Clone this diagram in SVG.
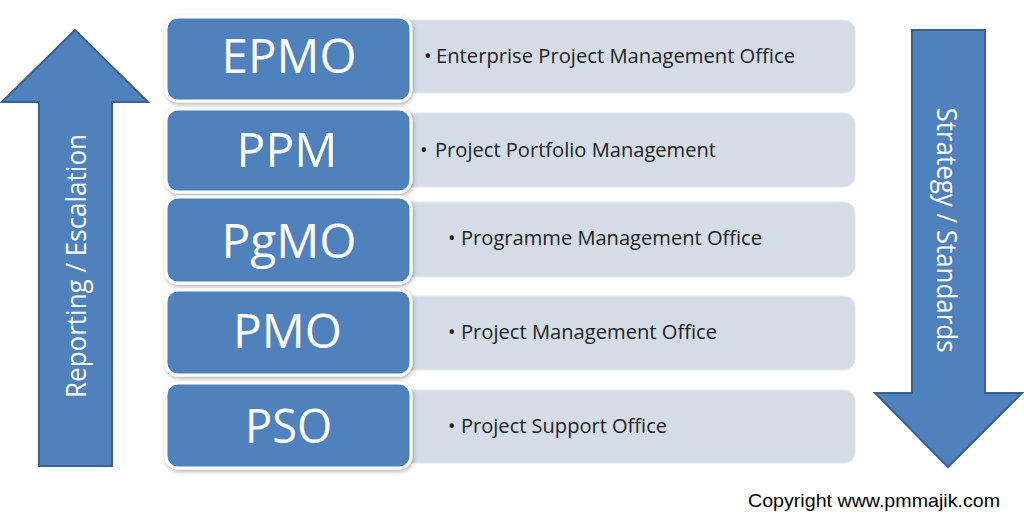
<svg xmlns="http://www.w3.org/2000/svg" width="1024" height="524" viewBox="0 0 1024 524">
<defs>
<style>
.big{fill:#4F81BD;stroke:#FFFFFF;stroke-width:3}
.lite{fill:#D4DCE8;stroke:#E4E9F1;stroke-width:1}
.arrow{fill:#4F81BD;stroke:#3A6190;stroke-width:2;stroke-linejoin:miter}
.lbl{font-family:"Open Sans","Noto Sans",sans-serif;font-size:48px;fill:#FFFFFF;text-anchor:middle}
.desc{font-family:"Open Sans","Noto Sans",sans-serif;font-size:20px;fill:#222222}
.vert{font-family:"Open Sans","Noto Sans",sans-serif;font-size:28px;fill:#FFFFFF;text-anchor:middle}
.copy{font-family:"Liberation Sans",Arial,sans-serif;font-size:18.5px;fill:#000000}
</style>
<filter id="sh" x="-10%" y="-10%" width="120%" height="130%">
<feDropShadow dx="1" dy="2" stdDeviation="2" flood-color="#000" flood-opacity="0.3"/>
</filter>
</defs>
<rect width="1024" height="524" fill="#FFFFFF"/>
<g id="arrows">
<polygon class="arrow" points="75,30 148,102 112,102 112,466 39,466 39,102 2,102"/>
<text class="vert" transform="translate(86,266) rotate(-90)" textLength="264" lengthAdjust="spacingAndGlyphs">Reporting / Escalation</text>
<polygon class="arrow" points="912,30 985,30 985,393 1022,393 948,467 875,393 912,393"/>
<text class="vert" transform="translate(937,230) rotate(90)" textLength="245" lengthAdjust="spacingAndGlyphs">Strategy / Standards</text>
</g>
<g id="connectors"></g>
<g id="epmo">
<rect class="lite" x="398" y="20" width="457" height="73" rx="11"/>
<rect class="big" x="166" y="17" width="245" height="84" rx="12" filter="url(#sh)"/>
<text class="lbl" x="289" y="73" textLength="135" lengthAdjust="spacingAndGlyphs">EPMO</text>
<text class="desc" x="424" y="63">•</text>
<text class="desc" x="436" y="63" textLength="359" lengthAdjust="spacingAndGlyphs">Enterprise Project Management Office</text>
</g>
<g id="ppm">
<rect class="lite" x="398" y="113" width="457" height="74" rx="11"/>
<rect class="big" x="166" y="109" width="245" height="83" rx="12" filter="url(#sh)"/>
<text class="lbl" x="287" y="167" textLength="101" lengthAdjust="spacingAndGlyphs">PPM</text>
<text class="desc" x="420" y="157">•</text>
<text class="desc" x="435" y="157" textLength="281" lengthAdjust="spacingAndGlyphs">Project Portfolio Management</text>
</g>
<g id="pgmo">
<rect class="lite" x="398" y="202" width="457" height="75" rx="11"/>
<rect class="big" x="166" y="197" width="245" height="86" rx="12" filter="url(#sh)"/>
<text class="lbl" x="289" y="258" textLength="135" lengthAdjust="spacingAndGlyphs">PgMO</text>
<text class="desc" x="448" y="245">•</text>
<text class="desc" x="461" y="245" textLength="301" lengthAdjust="spacingAndGlyphs">Programme Management Office</text>
</g>
<g id="pmo">
<rect class="lite" x="398" y="296" width="457" height="74" rx="11"/>
<rect class="big" x="166" y="290" width="245" height="85" rx="12" filter="url(#sh)"/>
<text class="lbl" x="287.5" y="348" textLength="109" lengthAdjust="spacingAndGlyphs">PMO</text>
<text class="desc" x="448" y="339">•</text>
<text class="desc" x="461" y="339" textLength="256" lengthAdjust="spacingAndGlyphs">Project Management Office</text>
</g>
<g id="pso">
<rect class="lite" x="398" y="390" width="457" height="73" rx="11"/>
<rect class="big" x="166" y="383" width="245" height="85" rx="12" filter="url(#sh)"/>
<text class="lbl" x="288.5" y="443" textLength="87" lengthAdjust="spacingAndGlyphs">PSO</text>
<text class="desc" x="448" y="433">•</text>
<text class="desc" x="461" y="433" textLength="206" lengthAdjust="spacingAndGlyphs">Project Support Office</text>
</g>
<text class="copy" x="748" y="507" textLength="252" lengthAdjust="spacingAndGlyphs">Copyright www.pmmajik.com</text>
</svg>
